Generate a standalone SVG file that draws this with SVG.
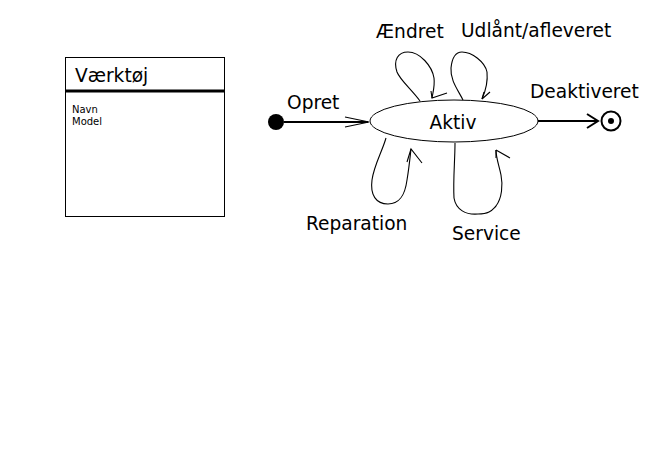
<svg xmlns="http://www.w3.org/2000/svg" width="662" height="467" viewBox="0 0 662 467">
<style>
text{font-family:"DejaVu Sans",sans-serif;fill:#000}
.lbl{font-size:18.6px}
.sm{font-size:10px}
.ln{fill:none;stroke:#000;stroke-width:1.1}
.th{fill:none;stroke:#000;stroke-width:2}
</style>
<rect width="662" height="467" fill="#fff"/>
<g id="vaerktoej">
<rect x="65.5" y="57.5" width="159" height="159" fill="#fff" stroke="#000" stroke-width="1"/>
<line x1="65" y1="91" x2="225" y2="91" stroke="#000" stroke-width="3"/>
<text x="75" y="82" class="lbl">Værktøj</text>
<text x="72" y="113" class="sm">Navn</text>
<text x="72" y="125" class="sm">Model</text>
</g>
<g id="start"><circle cx="276" cy="122" r="8" fill="#000"/></g>
<g id="aktiv">
<ellipse cx="454" cy="121" rx="84" ry="21" fill="#fff" stroke="#000" stroke-width="1"/>
<text x="453" y="129" class="lbl" text-anchor="middle">Aktiv</text>
</g>
<g id="slut">
<circle cx="611" cy="121" r="9.5" fill="#fff" stroke="#000" stroke-width="2"/>
<circle cx="611" cy="121" r="3" fill="#000"/>
</g>
<g id="connectors">
<line x1="284" y1="122" x2="368" y2="122" class="th"/>
<path d="M345,117 L369,122 L345,127" class="ln"/>
<text x="287" y="109" class="lbl">Opret</text>
<line x1="538" y1="121" x2="598" y2="121" class="th"/>
<path d="M587,114 L598,121 L587,128" class="th"/>
<text x="530" y="98" class="lbl">Deaktiveret</text>
<path d="M420,101 C412,90 400,80 397,72 C393,60 398,52 408,52 C420,52 432,66 434,78 C435,86 433,92 432,98" class="ln"/>
<path d="M431,91 L432,98 L447,93" class="ln"/>
<text x="376" y="38" class="lbl">Ændret</text>
<path d="M463,100 C458,90 450,80 451,68 C452,58 456,52 462,52 C472,52 485,62 487,72 C488,82 486,90 482,99" class="ln"/>
<path d="M482,99 L484,92 M482,99 L490,92" class="ln"/>
<text x="461" y="37" class="lbl">Udlånt/afleveret</text>
<path d="M386,138 C382,152 374,165 372,180 C370,195 376,204 388,204 C400,204 405,195 407,180 C409,168 410,158 411,149" class="ln"/>
<path d="M407,162 L411,149 L422,163" class="ln"/>
<text x="306" y="230" class="lbl">Reparation</text>
<path d="M455,143 C455,160 453,180 454,198 C456,210 466,215 478,214 C490,214 492,210 496,206 C502,198 503,185 501,175 C499,165 496,158 496,150" class="ln"/>
<path d="M496,150 L496,158 M496,150 L510,158" class="ln"/>
<text x="452" y="240" class="lbl">Service</text>
</g>
</svg>
